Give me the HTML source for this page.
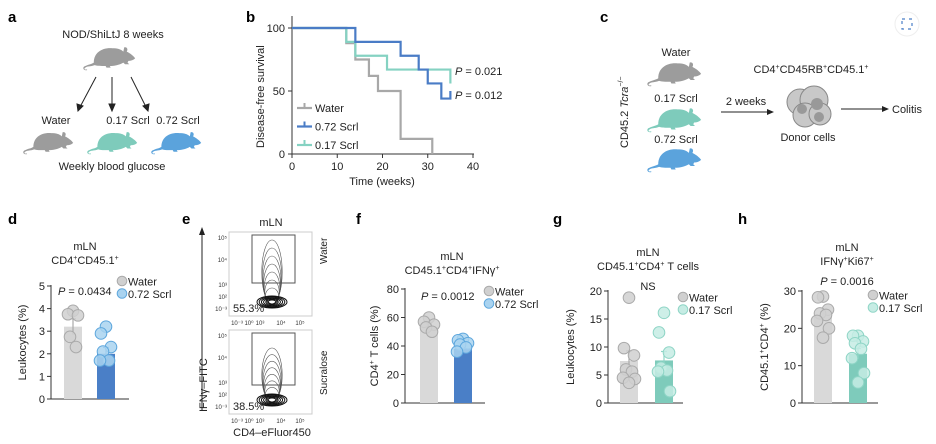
<!DOCTYPE html>
<html><head><meta charset="utf-8">
<style>
html,body{margin:0;padding:0;background:#fff;}
svg{display:block;font-family:"Liberation Sans",Arial,sans-serif;}
.lbl{font-weight:bold;font-size:15px;fill:#000;}
.t{font-size:11px;fill:#222;}
.s{font-size:10px;fill:#222;}
.tick{font-size:11px;fill:#222;}
</style></head>
<body>
<svg id="fig" width="936" height="444" viewBox="0 0 936 444">
<defs>
<symbol id="mouse" viewBox="0 0 64 32">
<path d="M14 22 C14 10 24 4 36 5 C42 5 46 6 49 9 L50 4 C53 3 55 6 53 9 C57 11 61 14 63 17 C61 19 58 20 55 20 L54 22 L56 24 L51 24 L49 22 C44 25 38 26 33 26 L34 28 L29 28 L28 26 C22 26 18 26 15 25 C10 27 6 26 4 28 C2 29 3 31 6 30 L6 31 C1 32 0 27 4 26 C8 24 11 24 14 22 Z" fill="currentColor"/>
</symbol>
</defs>

<!-- Panel a -->
<g>
<text class="lbl" x="8" y="22">a</text>
<text class="t" x="113" y="38" text-anchor="middle">NOD/ShiLtJ 8 weeks</text>
<use href="#mouse" x="82" y="44" width="54" height="27" style="color:#9c9c9c"/>
<g stroke="#222" stroke-width="1" fill="#222">
<line x1="96" y1="77" x2="80" y2="107"/><polygon points="78,111 77,104 83,106"/>
<line x1="112" y1="77" x2="112" y2="107"/><polygon points="112,111 109,104 115,104"/>
<line x1="131" y1="77" x2="146" y2="107"/><polygon points="148,111 143,106 149,104"/>
</g>
<text class="t" x="56" y="124" text-anchor="middle">Water</text>
<text class="t" x="128" y="124" text-anchor="middle">0.17 Scrl</text>
<text class="t" x="178" y="124" text-anchor="middle">0.72 Scrl</text>
<use href="#mouse" x="22" y="128" width="52" height="28" style="color:#9c9c9c"/>
<use href="#mouse" x="86" y="128" width="52" height="28" style="color:#7ecbbb"/>
<use href="#mouse" x="150" y="128" width="52" height="28" style="color:#5ba3dc"/>
<text class="t" x="112" y="170" text-anchor="middle">Weekly blood glucose</text>
</g>

<!-- Panel b -->
<g id="panelB">
<text class="lbl" x="246" y="22">b</text>
</g>

<!-- Panel c -->
<g>
<text class="lbl" x="600" y="22">c</text>
<circle cx="907" cy="24" r="12" fill="#fff" stroke="#eee"/>
<rect x="902" y="19" width="10" height="10" fill="none" stroke="#4a7fc7" stroke-width="1.2" stroke-dasharray="3 4"/>
<text class="t" x="0" y="0" transform="translate(628,148) rotate(-90)">CD45.2 <tspan font-style="italic">Tcra</tspan><tspan font-size="7" dy="-5">−/−</tspan></text>
<text class="t" x="676" y="56" text-anchor="middle">Water</text>
<use href="#mouse" x="645" y="59" width="58" height="28" style="color:#9c9c9c"/>
<text class="t" x="676" y="102" text-anchor="middle">0.17 Scrl</text>
<use href="#mouse" x="645" y="105" width="58" height="28" style="color:#7ecbbb"/>
<text class="t" x="676" y="143" text-anchor="middle">0.72 Scrl</text>
<use href="#mouse" x="645" y="145" width="58" height="28" style="color:#5ba3dc"/>
<text class="t" x="746" y="105" text-anchor="middle">2 weeks</text>
<line x1="721" y1="112" x2="768" y2="112" stroke="#222"/><polygon points="774,112 767,109 767,115" fill="#222"/>
<text class="t" x="811" y="73" text-anchor="middle">CD4<tspan font-size="7" dy="-4">+</tspan><tspan dy="4">CD45RB</tspan><tspan font-size="7" dy="-4">+</tspan><tspan dy="4">CD45.1</tspan><tspan font-size="7" dy="-4">+</tspan></text>
<g stroke="#888" stroke-width="1">
<circle cx="800" cy="102" r="13" fill="#c8c8c8"/><circle cx="814" cy="100" r="14" fill="#c8c8c8"/>
<circle cx="805" cy="115" r="12" fill="#c8c8c8"/><circle cx="820" cy="114" r="11" fill="#c8c8c8"/>
<circle cx="802" cy="109" r="5" fill="#999" stroke="none"/><circle cx="817" cy="104" r="6" fill="#999" stroke="none"/><circle cx="819" cy="117" r="5" fill="#999" stroke="none"/>
</g>
<text class="t" x="808" y="141" text-anchor="middle">Donor cells</text>
<line x1="841" y1="109" x2="883" y2="109" stroke="#222"/><polygon points="889,109 882,106 882,112" fill="#222"/>
<text class="t" x="892" y="113">Colitis</text>
</g>

<!-- Panel e (flow) -->
<g>
<text class="lbl" x="182" y="224">e</text>
<text class="t" x="271" y="226" text-anchor="middle">mLN</text>
<line x1="202" y1="410" x2="202" y2="234" stroke="#222"/><polygon points="202,227 199,235 205,235" fill="#222"/>
<text class="t" x="0" y="0" transform="translate(207,412) rotate(-90)">IFNγ–FITC</text>
<text class="t" x="272" y="436" text-anchor="middle">CD4–eFluor450</text>
<text class="s" x="0" y="0" transform="translate(327,264) rotate(-90)">Water</text>
<text class="s" x="0" y="0" transform="translate(327,395) rotate(-90)">Sucralose</text>
<g id="flow"></g>
</g>

<g id="bars"></g>
</svg>

<script>
const NS="http://www.w3.org/2000/svg";
function mk(tag,attrs,parent,txt){const e=document.createElementNS(NS,tag);for(const k in attrs)e.setAttribute(k,attrs[k]);if(txt!==undefined)e.textContent=txt;parent.appendChild(e);return e;}

/* ---------- Panel b: survival data ---------- */
const survTimes_water=[0,12,14,17,19,24,31];
const survVals_water=[100,88,75,62,50,12,0];
const survTimes_072=[0,14,24,28,30,33,35];
const survVals_072=[100,89,78,67,56,44,50];
const survTimes_017=[0,12,14,21,35];
const survVals_017=[100,89,78,67,56];
const survEnd_water=31, survEnd_072=35, survEnd_017=35;
const xTicksB=[0,10,20,30,40];
const yTicksB=[0,50,100];
const pLabelsB=["P = 0.021","P = 0.012"];

const bX=t=>292+t*(473-292)/40;
const bY=v=>154-v*1.26;
const pb=document.getElementById('panelB');
mk('line',{x1:292,y1:16,x2:292,y2:154,stroke:'#333'},pb);
mk('line',{x1:292,y1:154,x2:474,y2:154,stroke:'#333'},pb);
xTicksB.forEach(t=>{mk('line',{x1:bX(t),y1:154,x2:bX(t),y2:158,stroke:'#333'},pb);
 const tx=mk('text',{x:bX(t),y:170,'text-anchor':'middle',class:'tick'},pb,String(t));
 
 });
yTicksB.forEach(v=>{mk('line',{x1:288,y1:bY(v),x2:292,y2:bY(v),stroke:'#333'},pb);
 const tx=mk('text',{x:285,y:bY(v)+4,'text-anchor':'end',class:'tick'},pb,String(v));
 
 });
const bxt=mk('text',{x:382,y:185,'text-anchor':'middle',class:'t'},pb,'Time (weeks)');


const byt=mk('text',{x:0,y:0,transform:'translate(264,148) rotate(-90)',class:'t'},pb,'Disease-free survival');


function step(times,vals,end,color,name){
 let d=`M${bX(times[0])},${bY(vals[0])}`;
 for(let i=1;i<times.length;i++){d+=` H${bX(times[i])} V${bY(vals[i])}`;}
 if(end>times[times.length-1]) d+=` H${bX(end)}`;
 const p=mk('path',{d:d,fill:'none',stroke:color,'stroke-width':2.2},pb);
 
 
}
step(survTimes_water,survVals_water,survEnd_water,'#a8a8a8','survival-water');
step(survTimes_017,survVals_017,survEnd_017,'#85d2c2','survival-017');
step(survTimes_072,survVals_072,survEnd_072,'#4a7cc6','survival-072');
const legB=[['Water','#a8a8a8'],['0.72 Scrl','#4a7cc6'],['0.17 Scrl','#85d2c2']];
legB.forEach((l,i)=>{const y=108+i*18.5;
 mk('line',{x1:297,y1:y,x2:312,y2:y,stroke:l[1],'stroke-width':2.2},pb);
 mk('line',{x1:304.5,y1:y,x2:304.5,y2:y-5,stroke:l[1],'stroke-width':2},pb);
 const tx=mk('text',{x:315,y:y+4,class:'t'},pb,l[0]);
 
 });
pLabelsB.forEach((p,i)=>{const tx=mk('text',{x:455,y:75+i*24,class:'t'},pb);
 mk('tspan',{'font-style':'italic'},tx,'P');mk('tspan',{},tx,p.slice(1));
 
 });

/* ---------- flow plots (decorative) ---------- */
const flowPct=["55.3%","38.5%"];
const fl=document.getElementById('flow');
flowPct.forEach((pct,i)=>{const y0=i===0?232:330;
 const g=mk('g',{},fl);
 
 
 mk('rect',{x:229,y:y0,width:83,height:84,fill:'#fff',stroke:'#ccc'},g);
 const gh=i===0?48:52;
 mk('rect',{x:252,y:y0+3,width:43,height:gh,fill:'none',stroke:'#555','stroke-width':1},g);
 const top=i===0?8:18;
 for(let k=0;k<8;k++){const ry=4+k*(72-top-8)/14;
  mk('ellipse',{cx:272,cy:y0+72-ry,rx:6+k*0.6,ry:ry,fill:'none',stroke:'#555','stroke-width':0.6},g);}
 for(let k=0;k<6;k++){mk('ellipse',{cx:272,cy:y0+70,rx:15-k*2.2,ry:6-k*0.8,fill:'none',stroke:'#111','stroke-width':1},g);}
 const lt=['10⁵','10⁴','10³','10²','10⁻³'];const ly=[6,28,53,65,77];
 lt.forEach((s,j)=>mk('text',{x:227,y:y0+ly[j]+2,'text-anchor':'end','font-size':6,fill:'#333'},g,s));
 const bt=['10⁻³','10⁰','10³','10⁴','10⁵'];const bx=[237,249,260,281,300];
 bt.forEach((s,j)=>mk('text',{x:bx[j],y:y0+93,'text-anchor':'middle','font-size':6,fill:'#333'},g,s));
 const tp=mk('text',{x:233,y:y0+80,'font-size':11,fill:'#222'},g,pct);
 
 
});

/* ---------- Bar panels data ---------- */
const dGroups=["Water","0.72 Scrl"];
const dMeans=[3.2,2.0];
const dErr=[0.35,0.28];
const dPts_water=[3.9,3.75,3.7,2.75,2.3];
const dPts_scrl=[3.2,2.9,2.3,2.1,1.7,1.7];
const dTicks=[0,1,2,3,4,5];

const fGroups=["Water","0.72 Scrl"];
const fMeans=[53,38];
const fErr=[2.5,2];
const fPts_water=[60,57,55,53,50];
const fPts_scrl=[45,44,42,41,39,36];
const fTicks=[0,20,40,60,80];

const gGroups=["Water","0.17 Scrl"];
const gMeans=[7.5,7.6];
const gErr=[1.8,1.6];
const gPts_water=[18.8,9.8,8.5,6.0,5.6,4.5,4.3,3.6];
const gPts_scrl=[16.1,12.6,9.0,6.3,5.8,5.6,2.1];
const gTicks=[0,5,10,15,20];

const hGroups=["Water","0.17 Scrl"];
const hMeans=[23.3,13.2];
const hErr=[1.2,1.4];
const hPts_water=[28.5,28.3,25,24,23.6,22,20,17.5];
const hPts_scrl=[18,18,16.5,16,14.5,12,8,5.5];
const hTicks=[0,10,20,30];

const GR={bar:'#d9d9d9',fill:'#d0d0d0',stroke:'#aaa'};
const BL={bar:'#4a7fc7',fill:'#a9d3f0',stroke:'#5ea7dd'};
const TL={bar:'#7ecbbb',fill:'#c6ece4',stroke:'#8fd5c6'};
const bars=document.getElementById('bars');

function barPanel(o){
 const g=mk('g',{},bars);
 
 
 const max=o.ticks[o.ticks.length-1];
 const y=v=>o.base-v*(o.base-o.top)/max;
 const lb=mk('text',{x:o.lx,y:o.ly,class:'lbl'},g,o.letter);
 
 
 o.titles.forEach((t,i)=>{const tx=mk('text',{x:o.tx,y:o.ty+i*14,'text-anchor':'middle',class:'t'},g);tx.innerHTML=t;
  
  });
 mk('line',{x1:o.ax,y1:o.top-1,x2:o.ax,y2:o.base,stroke:'#333'},g);
 mk('line',{x1:o.ax,y1:o.base,x2:o.end,y2:o.base,stroke:'#333'},g);
 o.ticks.forEach(v=>{mk('line',{x1:o.ax-4,y1:y(v),x2:o.ax,y2:y(v),stroke:'#333'},g);
  const tx=mk('text',{x:o.ax-6,y:y(v)+4,'text-anchor':'end',class:'tick'},g,String(v));
  
  });
 const yt=mk('text',{x:0,y:0,transform:`translate(${o.ytx},${(o.top+o.base)/2}) rotate(-90)`,'text-anchor':'middle',class:'t'},g);yt.innerHTML=o.ytitle;
 
 
 const cols=[GR,o.c2];
 [o.pts1,o.pts2].forEach((pts,i)=>{
  const bx=o.bx[i],w=18,c=cols[i],m=o.means[i];
  const r=mk('rect',{x:bx,y:y(m),width:w,height:o.base-y(m),fill:c.bar},g);
  
  
  const cx=bx+w/2;
  mk('line',{x1:cx,y1:y(m-o.err[i]),x2:cx,y2:y(m+o.err[i]),stroke:c.stroke,'stroke-width':1.2},g);
  mk('line',{x1:cx-3,y1:y(m+o.err[i]),x2:cx+3,y2:y(m+o.err[i]),stroke:c.stroke,'stroke-width':1.2},g);
  pts.forEach((v,k)=>{const off=[0,-5,5,-3,3,-6,6,0][k%8];
   const p=mk('circle',{cx:cx+off,cy:y(v),r:5.8,fill:c.fill,stroke:c.stroke,'stroke-width':1,'fill-opacity':0.85},g);
   
   });
 });
 if(o.p){const tx=mk('text',{x:o.px,y:o.py,class:'t','text-anchor':o.pa||'start'},g);tx.innerHTML=o.p;
  
  }
 o.groups.forEach((gn,i)=>{const c=cols[i];
  mk('circle',{cx:o.legx,cy:o.legy+i*12.5,r:4.8,fill:c.fill,stroke:c.stroke},g);
  const tx=mk('text',{x:o.legx+6,y:o.legy+i*12.5+4.5,class:'t'},g,gn);
  
  });
}
const sup=s=>`<tspan font-size="7" dy="-4">${s}</tspan><tspan dy="4">`;
barPanel({name:'panel-d',letter:'d',lx:8,ly:224,titles:['mLN','CD4'+sup('+')+'CD45.1'+sup('+')+'</tspan></tspan>'],tx:85,ty:250,
 ax:51,top:286,base:399,end:129,ticks:dTicks,bx:[64,97],means:dMeans,err:dErr,pts1:dPts_water,pts2:dPts_scrl,c2:BL,groups:dGroups,
 ytitle:'Leukocytes (%)',ytx:26,p:'<tspan font-style="italic">P</tspan> = 0.0434',px:58,py:295,legx:122,legy:281});
barPanel({name:'panel-f',letter:'f',lx:356,ly:224,titles:['mLN','CD45.1'+sup('+')+'CD4'+sup('+')+'IFNγ'+sup('+')+'</tspan></tspan></tspan>'],tx:452,ty:260,
 ax:405,top:289,base:403,end:485,ticks:fTicks,bx:[420,454],means:fMeans,err:fErr,pts1:fPts_water,pts2:fPts_scrl,c2:BL,groups:fGroups,
 ytitle:'CD4'+sup('+')+' T cells (%)</tspan>',ytx:378,p:'<tspan font-style="italic">P</tspan> = 0.0012',px:421,py:300,legx:489,legy:291});
barPanel({name:'panel-g',letter:'g',lx:553,ly:224,titles:['mLN','CD45.1'+sup('+')+'CD4'+sup('+')+' T cells</tspan></tspan>'],tx:648,ty:256,
 ax:608,top:291,base:403,end:683,ticks:gTicks,bx:[620,655],means:gMeans,err:gErr,pts1:gPts_water,pts2:gPts_scrl,c2:TL,groups:gGroups,
 ytitle:'Leukocytes (%)',ytx:574,p:'NS',px:648,py:290,pa:'middle',legx:683,legy:297});
barPanel({name:'panel-h',letter:'h',lx:738,ly:224,titles:['mLN','IFNγ'+sup('+')+'Ki67'+sup('+')+'</tspan></tspan>'],tx:847,ty:251,
 ax:802,top:291,base:403,end:878,ticks:hTicks,bx:[814,849],means:hMeans,err:hErr,pts1:hPts_water,pts2:hPts_scrl,c2:TL,groups:hGroups,
 ytitle:'CD45.1'+sup('+')+'CD4'+sup('+')+' (%)</tspan></tspan>',ytx:768,p:'<tspan font-style="italic">P</tspan> = 0.0016',px:847,py:285,pa:'middle',legx:873,legy:295});
</script>
</body></html>
